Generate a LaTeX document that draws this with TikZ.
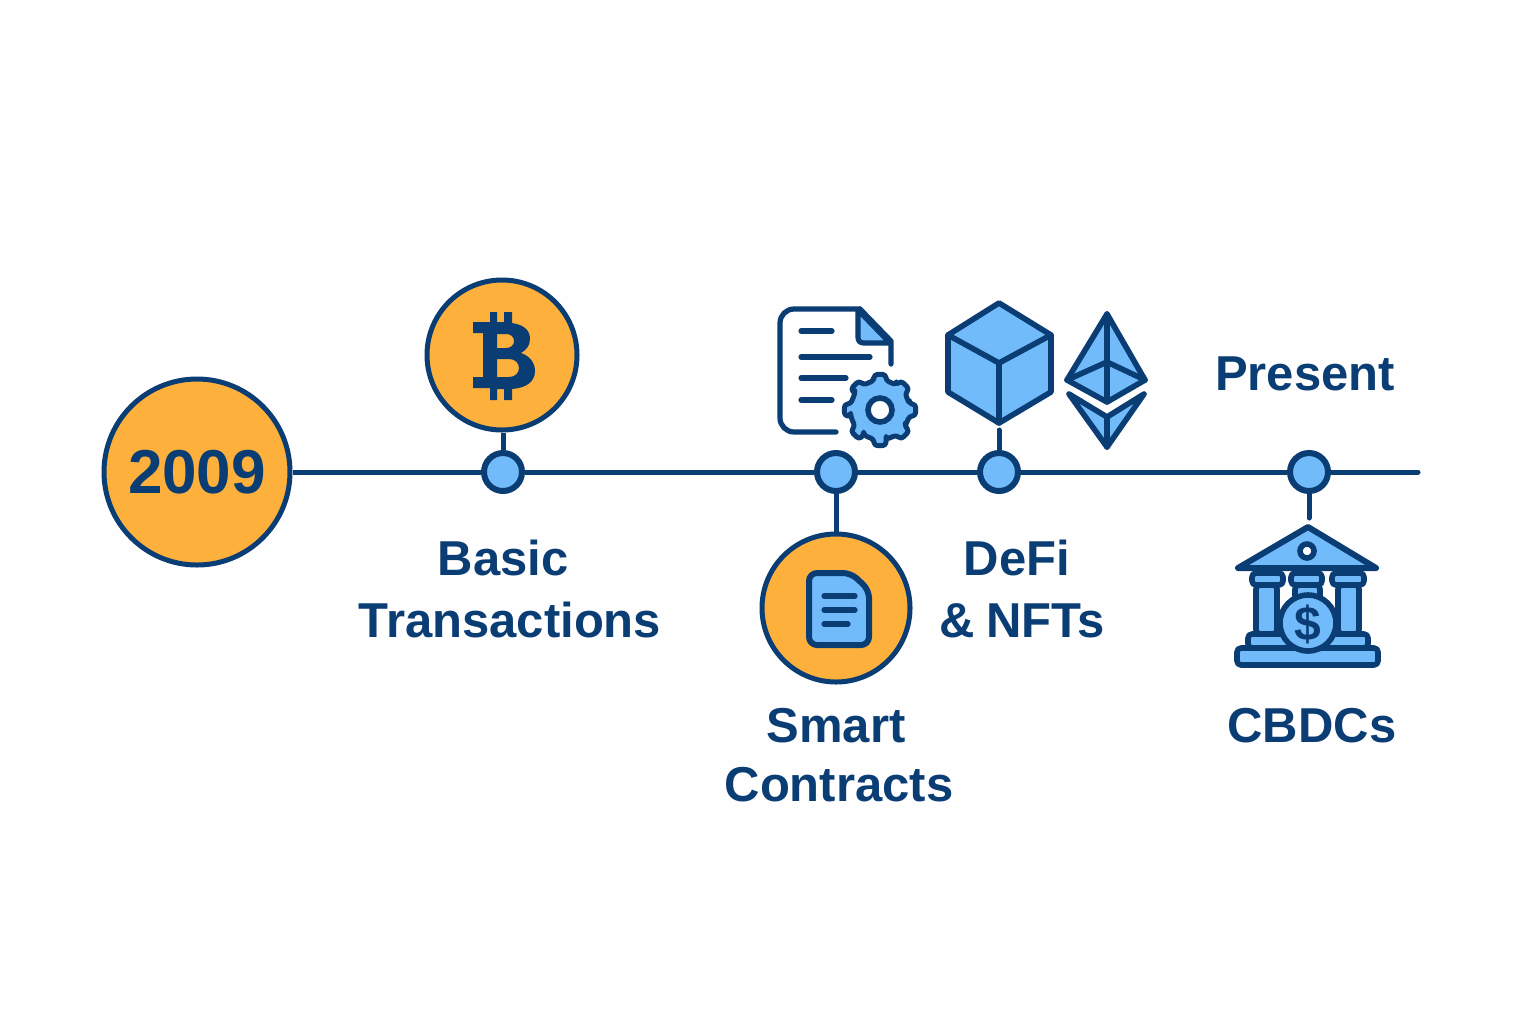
\documentclass[tikz,border=0pt]{standalone}
\usepackage{fontspec}
\setmainfont{Liberation Sans}
\definecolor{navy}{HTML}{0B3D75}
\definecolor{amber}{HTML}{FDB03B}
\definecolor{sky}{HTML}{72BBFB}
\tikzset{
  link/.style={draw=navy,line width=2.5pt},
  stopdot/.style={circle,draw=navy,fill=sky,line width=3pt,minimum size=19pt,inner sep=0pt},
  coin/.style={circle,draw=navy,fill=amber,line width=2.5pt,inner sep=0pt},
  label/.style={text=navy,font=\fontsize{24.5}{28}\selectfont\bfseries,anchor=base,inner sep=0pt},
  iconline/.style={draw=navy,line width=2.6pt,line cap=round,line join=round},
  iconfill/.style={draw=navy,fill=sky,line width=2.8pt,line join=round},
}
\begin{document}
\begin{tikzpicture}[x=0.5pt,y=-0.5pt]
\useasboundingbox (0,0) rectangle (1536,1024);
\fill[white!99.5!black] (0,0) rectangle (1536,1024);

% nodes on the timeline
\coordinate (lineend) at (1418,472);
\node[coin,minimum size=93pt,font=\fontsize{31}{34}\selectfont\bfseries,text=navy] (start) at (197,472) {2009};
\node[stopdot] (s1) at (503,472) {};
\node[stopdot] (s2) at (836,472) {};
\node[stopdot] (s3) at (999,472) {};
\node[stopdot] (s4) at (1309,472) {};
\node[coin,minimum size=75pt] (btc) at (502,355) {};
\node[coin,minimum size=74pt] (doc) at (836,608) {};
\coordinate (cubetip) at (999,430);
\coordinate (banktip) at (1309,518);

% connectors
\draw[link] (start.east) -- (s1.west);
\draw[link] (s1.east) -- (s2.west);
\draw[link] (s2.east) -- (s3.west);
\draw[link] (s3.east) -- (s4.west);
\draw[link,line cap=round] (s4.east) -- (lineend);
\draw[link] (s1.north) -- (s1.north |- btc.south);
\draw[link] (s2.south) -- (doc.north);
\draw[link,line cap=round] (cubetip) -- (s3.north);
\draw[link,line cap=round] (s4.south) -- (banktip);

% bitcoin sign
\fill[navy,even odd rule]
  (473,322) -- (490,322) -- (490,312) -- (497,312) -- (497,322) -- (504,322) -- (504,312) -- (512,312) -- (512,323)
  .. controls (525,325) and (530,331) .. (530,339)
  .. controls (530,346) and (526,350) .. (521,353)
  .. controls (530,356) and (535,363) .. (535,371)
  .. controls (535,381) and (527,388) .. (512,389)
  -- (512,400) -- (504,400) -- (504,389) -- (497,389) -- (497,400) -- (490,400) -- (490,388) -- (473,388) -- (473,377) -- (483,377) -- (483,333) -- (473,333) -- cycle
  (497,334) -- (497,348) -- (506,348) .. controls (511,348) and (514,345) .. (514,341) .. controls (514,337) and (511,334) .. (506,334) -- cycle
  (497,359) -- (497,377) -- (509,377) .. controls (515,377) and (519,373) .. (519,368) .. controls (519,363) and (515,359) .. (509,359) -- cycle;

% small document in coin
\draw[iconfill,line width=3pt,rounded corners=4pt] (809,573) -- (851,573) -- (869,590) -- (869,645) -- (809,645) -- cycle;
\draw[iconline] (824,596) -- (855,596) (824,610) -- (855,610) (824,624) -- (848,624);

% contract document
\draw[iconline,rounded corners=7pt] (836,432) -- (780,432) -- (780,309) -- (860,309);
\draw[iconline] (860,309) -- (891,341) -- (891,364);
\draw[iconfill,line width=2.6pt] (858,310) -- (858,337) .. controls (858,341) and (860,343) .. (864,343) -- (890,343) -- cycle;
\draw[iconline] (801,331) -- (832,331) (801,357) -- (870,357) (801,378) -- (846,378) (801,400) -- (832,400);

% gear
\begin{scope}[shift={(880,410)}]
\draw[iconfill,line width=2.5pt,rounded corners=1.5pt]
  (-12:30) \foreach \a in {0,45,...,315} {
    -- (\a-12:30) -- (\a-9:36) -- (\a+9:36) -- (\a+12:30) -- (\a+33:30)
  } -- cycle;
\draw[draw=navy,fill=white,line width=2.8pt] (0,0) circle (12);
\end{scope}

% cube
\coordinate (ct) at (999,303);
\coordinate (cr) at (1051,335);
\coordinate (crb) at (1051,392);
\coordinate (cb) at (999,423);
\coordinate (clb) at (948,392);
\coordinate (cl) at (948,335);
\coordinate (cc) at (999,363);
\draw[iconfill,line width=2.8pt] (ct) -- (cr) -- (crb) -- (cb) -- (clb) -- (cl) -- cycle;
\draw[iconline,line width=2.8pt] (cl) -- (cc) -- (cr) (cc) -- (cb);

% ethereum
\coordinate (et) at (1107,314);
\coordinate (er) at (1145,380);
\coordinate (eb) at (1107,402);
\coordinate (el) at (1067,380);
\coordinate (em) at (1107,362);
\draw[iconfill] (et) -- (er) -- (eb) -- (el) -- cycle;
\draw[iconline,line width=2.8pt] (et) -- (eb) (el) -- (em) -- (er);
\coordinate (fl) at (1069,394);
\coordinate (fm) at (1107,417);
\coordinate (fr) at (1144,394);
\coordinate (fb) at (1107,447);
\draw[iconfill] (fl) -- (fm) -- (fr) -- (fb) -- cycle;
\draw[iconline,line width=2.8pt] (fm) -- (fb);

% bank
\draw[iconfill,line width=3pt] (1308,527) -- (1376,568) -- (1238,568) -- cycle;
\draw[draw=navy,fill=white,line width=2.8pt] (1307,551) circle (7);
\begin{scope}[rounded corners=2pt]
\draw[iconfill] (1252,573) rectangle (1283,585);
\draw[iconfill] (1291,573) rectangle (1322,585);
\draw[iconfill] (1332,573) rectangle (1364,585);
\draw[iconfill] (1256,585) rectangle (1277,634);
\draw[iconfill] (1338,585) rectangle (1359,634);
\draw[iconfill] (1295,585) rectangle (1320,600);
\draw[iconfill] (1248,634) rectangle (1368,648);
\draw[iconfill] (1237,648) rectangle (1378,665);
\end{scope}
\draw[iconfill] (1308,623) circle (28);
\node[text=navy,font=\fontsize{24}{26}\selectfont\bfseries,inner sep=0pt] (dollar) at (1308,624) {\$};

% labels
\node[label] (l1a) at (503,575) {Basic};
\node[label] (l1b) at (510,637) {Transactions};
\node[label] (l2a) at (836,742) {Smart};
\node[label] (l2b) at (839,801) {Contracts};
\node[label] (l3a) at (1017,575) {DeFi};
\node[label] (l3b) at (1022,637) {\&\kern-1pt\ NFTs};
\node[label] (l4a) at (1305,390) {Present};
\node[label] (l4b) at (1312,742) {CBDCs};
\end{tikzpicture}
\end{document}
